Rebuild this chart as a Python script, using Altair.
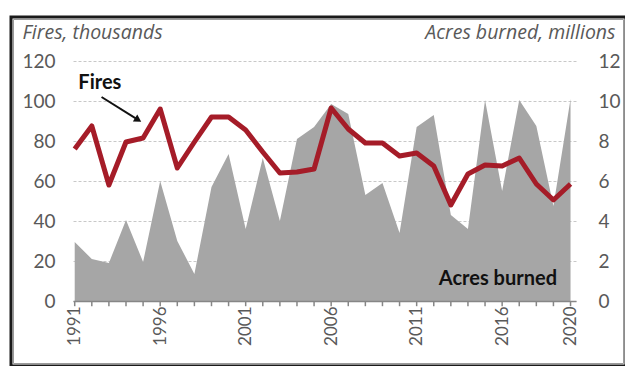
import altair as alt
import pandas as pd

years = list(range(1991, 2021))
fires = [76, 87.5, 58, 79.5, 81.5, 96, 66.5, 79.5, 92, 92,
         85.5, 74.5, 64, 64.5, 66, 96.5, 86, 79, 79, 72.5,
         74, 67.5, 48, 63.5, 68, 67.5, 71.5, 58.5, 50.5, 58.5]
acres = [2.95, 2.1, 1.9, 4.05, 1.95, 6.0, 3.0, 1.35, 5.7, 7.35,
         3.6, 7.15, 4.0, 8.1, 8.7, 9.85, 9.35, 5.3, 5.9, 3.4,
         8.7, 9.3, 4.3, 3.6, 10.05, 5.5, 10.05, 8.75, 4.75, 10.1]
label_years = [1991, 1996, 2001, 2006, 2011, 2016, 2020]
left_ticks = [0, 20, 40, 60, 80, 100, 120]
right_ticks = [0, 2, 4, 6, 8, 10, 12]

df = pd.DataFrame({"year": years, "fires": fires, "acres": acres})

FONT = "Lato"
TFONT = "Open Sans"
GREY = "#595959"
xdom = [1990.9, 2020.32]
xscale = alt.Scale(domain=xdom, nice=False, zero=False)
yleft = alt.Scale(domain=[0, 120], nice=False)
yright = alt.Scale(domain=[0, 12], nice=False)

xaxis = alt.Axis(
    values=label_years, format="d",
    labelAngle=270, labelFont=FONT, labelFontSize=17, labelColor=GREY,
    labelPadding=5, labelOverlap=False, labelFlush=False,
    ticks=False, domainColor="#868686", domainWidth=1.5,
    grid=False, title=None, zindex=1,
)
X = alt.X("year:Q", scale=xscale, axis=xaxis, title=None)

area = alt.Chart(df).mark_area(color="#a6a6a6").encode(
    x=X,
    y=alt.Y("acres:Q", scale=yright, axis=alt.Axis(
        orient="right", values=right_ticks, grid=False, ticks=False, domain=False,
        labelFont=FONT, labelFontSize=19, labelColor=GREY, labelPadding=22,
        title="Acres burned, millions", titleFont=TFONT, titleFontStyle="italic",
        titleFontWeight="normal", titleFontSize=19.5, titleColor=GREY, titleAngle=0,
        titleAlign="right", titleBaseline="alphabetic", titleX=39, titleY=-23,
    )),
)

# small tick marks under the axis at every year
ticks = alt.Chart(df).mark_rule(color="#868686", strokeWidth=1.5).encode(
    x=X,
    y=alt.Y("zero:Q", scale=yleft, axis=None),
    y2=alt.Y2("neg:Q"),
).transform_calculate(zero="0", neg="-2.6")

line = alt.Chart(df).mark_line(color="#a51c28", strokeWidth=5, strokeJoin="round").encode(
    x=X,
    y=alt.Y("fires:Q", scale=yleft, axis=alt.Axis(
        orient="left", values=left_ticks, grid=True, gridDash=[3, 2],
        gridColor="#c8c8c8", gridWidth=1, ticks=False, domain=False,
        labelFont=FONT, labelFontSize=19, labelColor=GREY, labelPadding=18,
        title="Fires, thousands", titleFont=TFONT, titleFontStyle="italic",
        titleFontWeight="normal", titleFontSize=19.5, titleColor=GREY, titleAngle=0,
        titleAlign="left", titleBaseline="alphabetic", titleX=-51, titleY=-23,
    )),
)

ann = pd.DataFrame({
    "year": [1992.47, 2019.21],
    "fires": [105.9, 7.85],
    "text": ["Fires", "Acres burned"],
})
txt_fires = alt.Chart(ann.iloc[[0]]).mark_text(
    font=FONT, fontWeight="bold", fontSize=20, color="#111111",
    align="center", baseline="alphabetic",
).encode(x=X, y=alt.Y("fires:Q", scale=yleft, axis=None), text="text:N")
txt_acres = alt.Chart(ann.iloc[[1]]).mark_text(
    font=FONT, fontWeight="bold", fontSize=20, color="#111111",
    align="right", baseline="alphabetic",
).encode(x=X, y=alt.Y("fires:Q", scale=yleft, axis=None), text="text:N")

arrow_df = pd.DataFrame({"year": [1992.57], "y": [102.0], "year2": [1994.71], "y2": [90.55]})
arrow_line = alt.Chart(arrow_df).mark_rule(color="#111111", strokeWidth=2).encode(
    x=X, x2="year2",
    y=alt.Y("y:Q", scale=yleft, axis=None), y2="y2",
)
arrow_head = alt.Chart(arrow_df).mark_point(
    shape="triangle-right", filled=True, color="#111111", size=70, angle=32, opacity=1,
).encode(
    x=alt.X("year2:Q", scale=xscale, axis=xaxis, title=None),
    y=alt.Y("y2:Q", scale=yleft, axis=None),
)

fdum = pd.DataFrame({"k": [0]})
frame = alt.Chart(fdum).mark_rect(
    filled=False, fill=None, stroke="#1a1a1a", strokeWidth=3,
).encode(x=alt.value(-62), x2=alt.value(553), y=alt.value(-44), y2=alt.value(305))
frame_inner = alt.Chart(fdum).mark_rect(
    filled=False, fill=None, stroke="#9a9a9a", strokeWidth=1,
).encode(x=alt.value(-59.5), x2=alt.value(550.5), y=alt.value(-41.5), y2=alt.value(302.5))

chart = alt.layer(
    area, ticks, line, txt_fires, txt_acres, arrow_line, arrow_head, frame_inner, frame,
).resolve_scale(y="independent").properties(
    width=503, height=240,
    autosize=alt.AutoSizeParams(type="none"),
    padding={"left": 65, "top": 53, "right": 49, "bottom": 65},
).configure_view(stroke=None)

chart.save("out.html", embed_options={"renderer": "svg", "actions": False})
